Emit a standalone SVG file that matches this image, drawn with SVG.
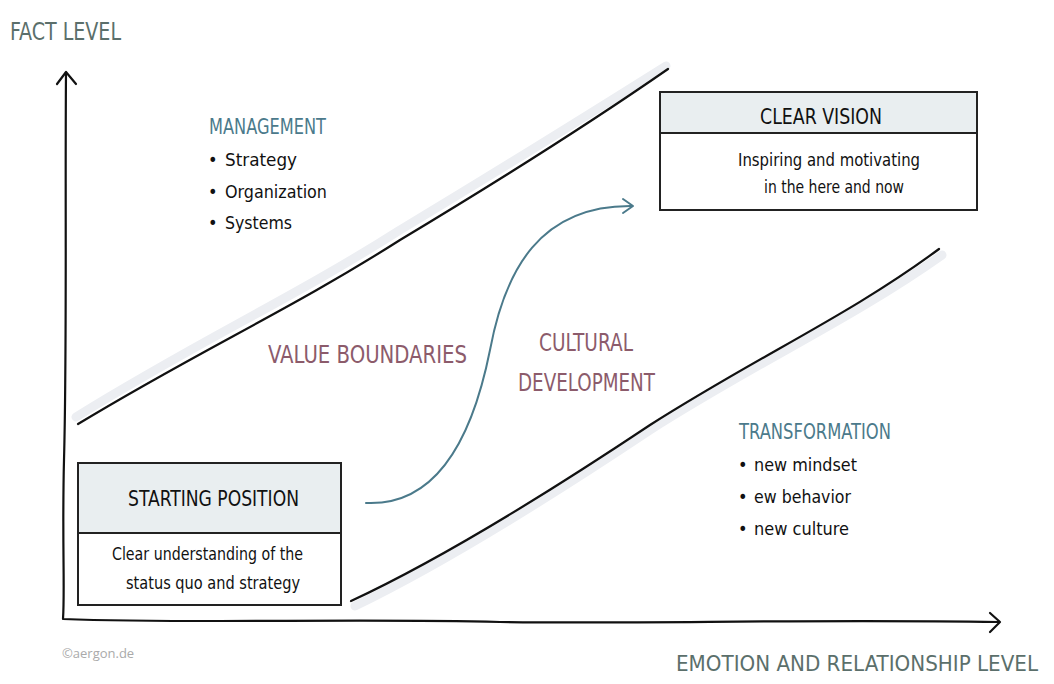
<svg xmlns="http://www.w3.org/2000/svg" width="1054" height="684" viewBox="0 0 1054 684">
<style>
.ax{fill:#5b6f6b;font-family:"DejaVu Sans Condensed","Liberation Sans",sans-serif;font-size:24px}
.hd{fill:#4b7a8b;font-family:"DejaVu Sans Condensed","Liberation Sans",sans-serif;font-size:21px}
.mv{fill:#8c5b6b;font-family:"DejaVu Sans Condensed","Liberation Sans",sans-serif;font-size:25px}
.tt{fill:#111;font-family:"DejaVu Sans Condensed","Liberation Sans",sans-serif;font-size:21px}
.bd{fill:#111;font-family:"DejaVu Sans Condensed","Liberation Sans",sans-serif;font-size:18px}
.ln{fill:none;stroke:#111;stroke-width:2.2;stroke-linecap:round;stroke-linejoin:round}
.sh{fill:none;stroke:#eceef2;stroke-width:9;stroke-linecap:round}
.cv{fill:none;stroke:#4b7a8b;stroke-width:2;stroke-linecap:round;stroke-linejoin:round}
.box{fill:#fff;stroke:#222;stroke-width:2}
.hdr{fill:#e9eef0;stroke:#222;stroke-width:2}
</style>
<rect width="1054" height="684" fill="#fff"/>
<g id="axes">
<path class="ln" d="M66,73 C65,200 67,350 64,460 C62,540 65,590 63,619 C200,624 350,618 500,622 C650,624 800,619 999,622"/>
<path class="ln" d="M57,84 L66,72 L76,84"/>
<path class="ln" d="M990,613 L1000,622 L990,632"/>
<text class="ax" x="10" y="40" textLength="111" lengthAdjust="spacingAndGlyphs">FACT LEVEL</text>
<text class="ax" x="676" y="671" font-size="21" textLength="362" lengthAdjust="spacingAndGlyphs" style="font-size:21px">EMOTION AND RELATIONSHIP LEVEL</text>
<text x="62" y="658" fill="#aaaaaa" font-family="'Open Sans','Liberation Sans',sans-serif" font-size="13">©aergon.de</text>
</g>
<g id="boundaries">
<path class="sh" d="M76,417 C200,340 290,300 400,230 C500,170 580,120 666,66"/>
<path class="ln" d="M78,424 C200,350 290,310 400,240 C500,180 580,130 668,69"/>
<path class="sh" d="M355,606 C450,560 560,490 650,430 C760,360 850,320 942,255"/>
<path class="ln" d="M351,601 C450,555 560,485 650,425 C760,355 850,315 939,249"/>
</g>
<g id="management">
<text class="hd" x="209" y="134" textLength="117" lengthAdjust="spacingAndGlyphs">MANAGEMENT</text>
<text class="bd" x="208" y="166">•</text><text class="bd" x="225" y="166" textLength="72" lengthAdjust="spacingAndGlyphs">Strategy</text>
<text class="bd" x="208" y="198">•</text><text class="bd" x="225" y="198" textLength="102" lengthAdjust="spacingAndGlyphs">Organization</text>
<text class="bd" x="208" y="229">•</text><text class="bd" x="225" y="229" textLength="67" lengthAdjust="spacingAndGlyphs">Systems</text>
</g>
<g id="clear-vision">
<rect class="box" x="660" y="92" width="317" height="118"/>
<rect class="hdr" x="660" y="92" width="317" height="41"/>
<text class="tt" x="760" y="124" textLength="122" lengthAdjust="spacingAndGlyphs">CLEAR VISION</text>
<text class="bd" x="738" y="166" textLength="182" lengthAdjust="spacingAndGlyphs">Inspiring and motivating</text>
<text class="bd" x="764" y="193" textLength="140" lengthAdjust="spacingAndGlyphs">in the here and now</text>
</g>
<g id="starting-position">
<rect class="box" x="78" y="463" width="263" height="142"/>
<rect class="hdr" x="78" y="463" width="263" height="70"/>
<text class="tt" x="128" y="506" textLength="171" lengthAdjust="spacingAndGlyphs">STARTING POSITION</text>
<text class="bd" x="112" y="560" textLength="191" lengthAdjust="spacingAndGlyphs">Clear understanding of the</text>
<text class="bd" x="126" y="589" textLength="174" lengthAdjust="spacingAndGlyphs">status quo and strategy</text>
</g>
<g id="labels">
<text class="mv" x="268" y="363" textLength="199" lengthAdjust="spacingAndGlyphs">VALUE BOUNDARIES</text>
<text class="mv" x="539" y="351" textLength="94" lengthAdjust="spacingAndGlyphs">CULTURAL</text>
<text class="mv" x="518" y="391" textLength="137" lengthAdjust="spacingAndGlyphs">DEVELOPMENT</text>
</g>
<g id="transformation">
<text class="hd" x="739" y="439" textLength="152" lengthAdjust="spacingAndGlyphs">TRANSFORMATION</text>
<text class="bd" x="738" y="471">•</text><text class="bd" x="754" y="471" textLength="103" lengthAdjust="spacingAndGlyphs">new mindset</text>
<text class="bd" x="738" y="503">•</text><text class="bd" x="754" y="503" textLength="97" lengthAdjust="spacingAndGlyphs">ew behavior</text>
<text class="bd" x="738" y="535">•</text><text class="bd" x="754" y="535" textLength="95" lengthAdjust="spacingAndGlyphs">new culture</text>
</g>
<g id="connectors">
<path class="cv" d="M366,503 C430,506 470,450 490,350 C505,270 540,205 632,206"/>
<path class="cv" d="M623,199 L633,206 L623,213"/>
</g>
</svg>
